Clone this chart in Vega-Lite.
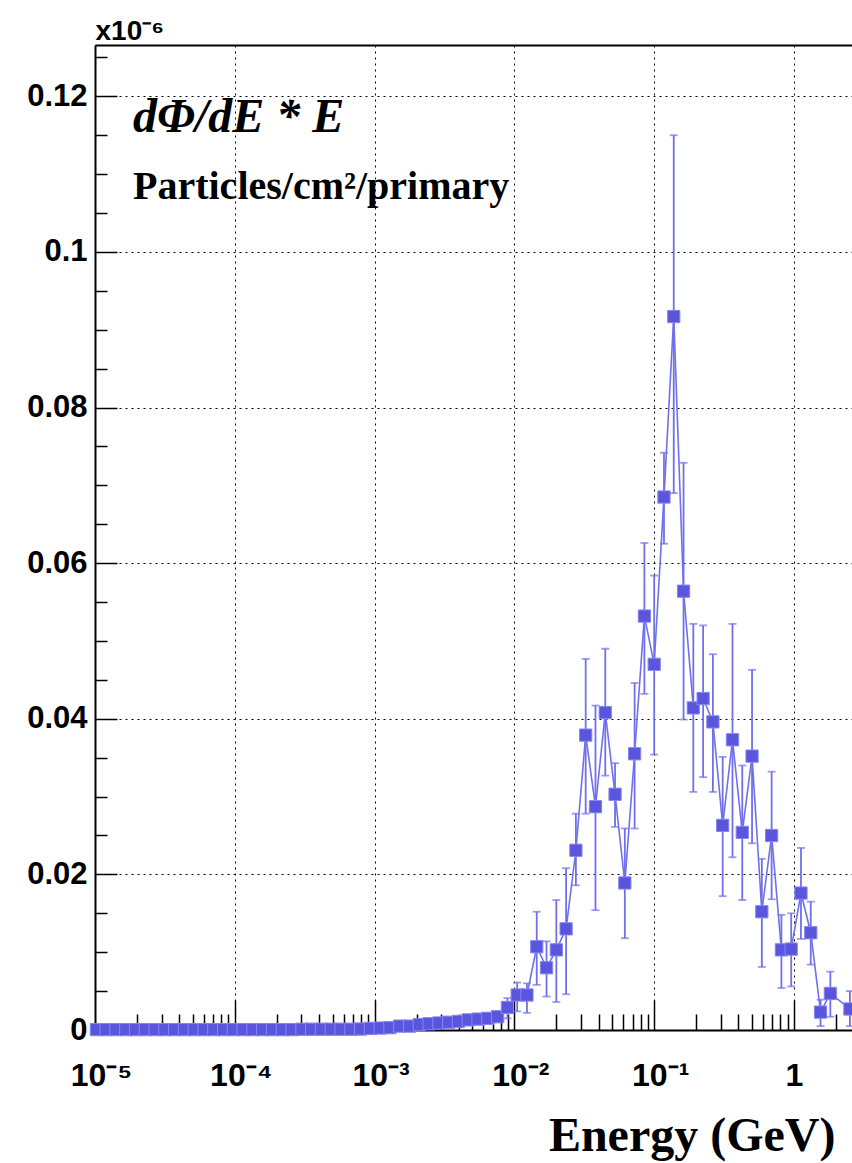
{
  "$schema": "https://vega.github.io/schema/vega-lite/v6.json",
  "width": 757,
  "height": 985,
  "autosize": "none",
  "padding": {"left": 95, "top": 45, "right": 0, "bottom": 133},
  "background": "white",
  "config": {"view": {"stroke": null}},
  "title": {
    "text": "dΦ/dE * E",
    "subtitle": "Particles/cm²/primary",
    "anchor": "start",
    "frame": "group",
    "orient": "top",
    "offset": 0,
    "dx": 38,
    "dy": 190,
    "font": "Liberation Serif",
    "fontSize": 48,
    "fontStyle": "italic",
    "fontWeight": "bold",
    "color": "black",
    "subtitleFont": "Liberation Serif",
    "subtitleFontSize": 40,
    "subtitleFontWeight": "bold",
    "subtitleColor": "black",
    "subtitlePadding": 25
  },
  "data": {
    "values": [
      {"E": 1.023e-5, "v": 0.00005, "lo": 0.00005, "hi": 0.00005},
      {"E": 1.202e-5, "v": 0.00005, "lo": 0.00005, "hi": 0.00005},
      {"E": 1.413e-5, "v": 0.00005, "lo": 0.00005, "hi": 0.00005},
      {"E": 1.660e-5, "v": 0.00005, "lo": 0.00005, "hi": 0.00005},
      {"E": 1.950e-5, "v": 0.00005, "lo": 0.00005, "hi": 0.00005},
      {"E": 2.291e-5, "v": 0.00005, "lo": 0.00005, "hi": 0.00005},
      {"E": 2.692e-5, "v": 0.00005, "lo": 0.00005, "hi": 0.00005},
      {"E": 3.162e-5, "v": 0.00005, "lo": 0.00005, "hi": 0.00005},
      {"E": 3.715e-5, "v": 0.00005, "lo": 0.00005, "hi": 0.00005},
      {"E": 4.365e-5, "v": 0.00005, "lo": 0.00005, "hi": 0.00005},
      {"E": 5.129e-5, "v": 0.00005, "lo": 0.00005, "hi": 0.00005},
      {"E": 6.026e-5, "v": 0.00005, "lo": 0.00005, "hi": 0.00005},
      {"E": 7.079e-5, "v": 0.00005, "lo": 0.00005, "hi": 0.00005},
      {"E": 8.318e-5, "v": 0.00005, "lo": 0.00005, "hi": 0.00005},
      {"E": 9.772e-5, "v": 0.00005, "lo": 0.00005, "hi": 0.00005},
      {"E": 1.148e-4, "v": 0.00005, "lo": 0.00005, "hi": 0.00005},
      {"E": 1.349e-4, "v": 0.00005, "lo": 0.00005, "hi": 0.00005},
      {"E": 1.585e-4, "v": 0.00005, "lo": 0.00005, "hi": 0.00005},
      {"E": 1.862e-4, "v": 0.00005, "lo": 0.00005, "hi": 0.00005},
      {"E": 2.188e-4, "v": 0.00005, "lo": 0.00005, "hi": 0.00005},
      {"E": 2.570e-4, "v": 0.00005, "lo": 0.00005, "hi": 0.00005},
      {"E": 3.020e-4, "v": 0.0001, "lo": 0.0001, "hi": 0.0001},
      {"E": 3.548e-4, "v": 0.0001, "lo": 0.0001, "hi": 0.0001},
      {"E": 4.169e-4, "v": 0.0001, "lo": 0.0001, "hi": 0.0001},
      {"E": 4.898e-4, "v": 0.0001, "lo": 0.0001, "hi": 0.0001},
      {"E": 5.754e-4, "v": 0.0001, "lo": 0.0001, "hi": 0.0001},
      {"E": 6.761e-4, "v": 0.0001, "lo": 0.0001, "hi": 0.0001},
      {"E": 7.943e-4, "v": 0.00012, "lo": 0.00012, "hi": 0.00012},
      {"E": 9.333e-4, "v": 0.0002, "lo": 0.0002, "hi": 0.0002},
      {"E": 1.096e-3, "v": 0.00025, "lo": 0.00025, "hi": 0.00025},
      {"E": 1.288e-3, "v": 0.0003, "lo": 0.0003, "hi": 0.0003},
      {"E": 1.514e-3, "v": 0.0005, "lo": 0.0005, "hi": 0.0005},
      {"E": 1.778e-3, "v": 0.0005, "lo": 0.0005, "hi": 0.0005},
      {"E": 2.089e-3, "v": 0.0007, "lo": 0.0007, "hi": 0.0007},
      {"E": 2.455e-3, "v": 0.0008, "lo": 0.0008, "hi": 0.0008},
      {"E": 2.884e-3, "v": 0.0009, "lo": 0.0009, "hi": 0.0009},
      {"E": 3.388e-3, "v": 0.0010, "lo": 0.0010, "hi": 0.0010},
      {"E": 3.981e-3, "v": 0.0011, "lo": 0.0011, "hi": 0.0011},
      {"E": 4.677e-3, "v": 0.0013, "lo": 0.0013, "hi": 0.0013},
      {"E": 5.495e-3, "v": 0.0014, "lo": 0.0011, "hi": 0.0017},
      {"E": 6.457e-3, "v": 0.0015, "lo": 0.0011, "hi": 0.0019},
      {"E": 7.586e-3, "v": 0.0017, "lo": 0.0011, "hi": 0.0023},
      {"E": 8.913e-3, "v": 0.0029, "lo": 0.0015, "hi": 0.0041},
      {"E": 1.047e-2, "v": 0.0045, "lo": 0.0024, "hi": 0.0061},
      {"E": 1.230e-2, "v": 0.0045, "lo": 0.0022, "hi": 0.0060},
      {"E": 1.445e-2, "v": 0.0107, "lo": 0.0058, "hi": 0.0152},
      {"E": 1.698e-2, "v": 0.0080, "lo": 0.0043, "hi": 0.0114},
      {"E": 1.995e-2, "v": 0.0103, "lo": 0.0036, "hi": 0.0167},
      {"E": 2.344e-2, "v": 0.0130, "lo": 0.0046, "hi": 0.0208},
      {"E": 2.754e-2, "v": 0.0231, "lo": 0.0186, "hi": 0.0278},
      {"E": 3.236e-2, "v": 0.0379, "lo": 0.0278, "hi": 0.0477},
      {"E": 3.802e-2, "v": 0.0287, "lo": 0.0154, "hi": 0.0417},
      {"E": 4.467e-2, "v": 0.0408, "lo": 0.0327, "hi": 0.0490},
      {"E": 5.248e-2, "v": 0.0303, "lo": 0.0261, "hi": 0.0343},
      {"E": 6.166e-2, "v": 0.0189, "lo": 0.0118, "hi": 0.0259},
      {"E": 7.244e-2, "v": 0.0355, "lo": 0.0259, "hi": 0.0446},
      {"E": 8.511e-2, "v": 0.0532, "lo": 0.0432, "hi": 0.0626},
      {"E": 0.1, "v": 0.0470, "lo": 0.0354, "hi": 0.0584},
      {"E": 0.1175, "v": 0.0685, "lo": 0.0625, "hi": 0.0742},
      {"E": 0.1380, "v": 0.0917, "lo": 0.0690, "hi": 0.1150},
      {"E": 0.1622, "v": 0.0564, "lo": 0.0399, "hi": 0.0729},
      {"E": 0.1905, "v": 0.0414, "lo": 0.0306, "hi": 0.0522},
      {"E": 0.2239, "v": 0.0426, "lo": 0.0325, "hi": 0.0520},
      {"E": 0.2630, "v": 0.0396, "lo": 0.0306, "hi": 0.0483},
      {"E": 0.3090, "v": 0.0263, "lo": 0.0172, "hi": 0.0351},
      {"E": 0.3631, "v": 0.0373, "lo": 0.0222, "hi": 0.0522},
      {"E": 0.4266, "v": 0.0254, "lo": 0.0167, "hi": 0.0340},
      {"E": 0.5012, "v": 0.0352, "lo": 0.0240, "hi": 0.0463},
      {"E": 0.5888, "v": 0.0152, "lo": 0.0081, "hi": 0.0220},
      {"E": 0.6918, "v": 0.0250, "lo": 0.0168, "hi": 0.0332},
      {"E": 0.8128, "v": 0.0103, "lo": 0.0054, "hi": 0.0148},
      {"E": 0.9550, "v": 0.0104, "lo": 0.0056, "hi": 0.0150},
      {"E": 1.122, "v": 0.0176, "lo": 0.0117, "hi": 0.0234},
      {"E": 1.318, "v": 0.0125, "lo": 0.0084, "hi": 0.0165},
      {"E": 1.549, "v": 0.0023, "lo": 0.0005, "hi": 0.0039},
      {"E": 1.820, "v": 0.0047, "lo": 0.0017, "hi": 0.0075},
      {"E": 2.512, "v": 0.0027, "lo": 0.0005, "hi": 0.0050}
    ]
  },
  "resolve": {"axis": {"x": "independent", "y": "independent"}},
  "layer": [
    {
      "mark": {"type": "rule", "color": "#7070ec", "strokeWidth": 1.8},
      "transform": [{"filter": "datum.hi > datum.lo"}],
      "encoding": {
        "x": {
          "field": "E", "type": "quantitative",
          "scale": {"type": "log", "domain": [0.00001, 2.6], "nice": false},
          "axis": {
            "orient": "bottom",
            "values": [0.00001, 0.0001, 0.001, 0.01, 0.1, 1],
            "labelExpr": "datum.value < 5e-5 ? '10⁻⁵' : datum.value < 5e-4 ? '10⁻⁴' : datum.value < 5e-3 ? '10⁻³' : datum.value < 5e-2 ? '10⁻²' : datum.value < 0.5 ? '10⁻¹' : '1'",
            "ticks": false,
            "grid": true, "gridColor": "black", "gridDash": [2, 4], "gridWidth": 1, "gridOpacity": 1,
            "domain": true, "domainColor": "black", "domainWidth": 2,
            "labelFont": "Liberation Sans", "labelFontWeight": "bold", "labelFontSize": 32, "labelColor": "black",
            "labelPadding": 30, "labelBaseline": "top", "labelFlush": false, "labelOverlap": false,
            "labelOffset": {"condition": {"test": "datum.value < 0.5", "value": 6}, "value": 0},
            "title": "Energy (GeV)",
            "titleFont": "Liberation Serif", "titleFontSize": 48, "titleFontWeight": "bold", "titleColor": "black",
            "titleAlign": "right", "titleBaseline": "alphabetic", "titleX": 740, "titleY": 120
          }
        },
        "y": {
          "field": "lo", "type": "quantitative",
          "scale": {"domain": [0, 0.1266], "nice": false, "zero": false},
          "axis": {
            "orient": "left",
            "values": [0, 0.02, 0.04, 0.06, 0.08, 0.1, 0.12],
            "format": ".2~f",
            "ticks": false,
            "grid": true, "gridColor": "black", "gridDash": [2, 4], "gridWidth": 1, "gridOpacity": 1,
            "domain": true, "domainColor": "black", "domainWidth": 2,
            "labelFont": "Liberation Sans", "labelFontWeight": "bold", "labelFontSize": 31, "labelColor": "black",
            "labelPadding": 8, "labelBaseline": "middle", "labelFlush": false, "labelOverlap": false,
            "title": "x10⁻⁶", "titleAngle": 0, "titleAlign": "left", "titleBaseline": "alphabetic",
            "titleX": 0, "titleY": -6,
            "titleFont": "Liberation Sans", "titleFontWeight": "bold", "titleFontSize": 28, "titleColor": "black"
          }
        },
        "y2": {"field": "hi"}
      }
    },
    {
      "mark": {"type": "tick", "orient": "horizontal", "color": "#7070ec", "thickness": 1.8, "size": 8},
      "transform": [
        {"filter": "datum.hi > datum.lo"},
        {"fold": ["lo", "hi"], "as": ["which", "bound"]}
      ],
      "encoding": {
        "x": {
          "field": "E", "type": "quantitative",
          "scale": {"type": "log", "domain": [0.00001, 2.6], "nice": false},
          "axis": {
            "orient": "bottom", "offset": -16, "tickSize": 16, "tickColor": "black", "tickWidth": 1.5,
            "values": [0.00002, 0.00003, 0.00004, 0.00005, 0.00006, 0.00007, 0.00008, 0.00009,
                       0.0002, 0.0003, 0.0004, 0.0005, 0.0006, 0.0007, 0.0008, 0.0009,
                       0.002, 0.003, 0.004, 0.005, 0.006, 0.007, 0.008, 0.009,
                       0.02, 0.03, 0.04, 0.05, 0.06, 0.07, 0.08, 0.09,
                       0.2, 0.3, 0.4, 0.5, 0.6, 0.7, 0.8, 0.9, 2],
            "labels": false, "domain": false, "grid": false, "title": null
          }
        },
        "y": {
          "field": "bound", "type": "quantitative",
          "scale": {"domain": [0, 0.1266], "nice": false, "zero": false},
          "axis": {
            "orient": "left", "offset": -12, "tickSize": 12, "tickColor": "black", "tickWidth": 1.5,
            "values": [0.005, 0.01, 0.015, 0.025, 0.03, 0.035, 0.045, 0.05, 0.055, 0.065, 0.07, 0.075,
                       0.085, 0.09, 0.095, 0.105, 0.11, 0.115, 0.125],
            "labels": false, "domain": false, "grid": false, "title": null
          }
        }
      }
    },
    {
      "mark": {"type": "line", "color": "#7070ec", "strokeWidth": 1.6},
      "encoding": {
        "x": {
          "field": "E", "type": "quantitative",
          "scale": {"type": "log", "domain": [0.00001, 2.6], "nice": false},
          "axis": {
            "orient": "bottom", "offset": -30, "tickSize": 30, "tickColor": "black", "tickWidth": 1.5,
            "values": [0.0001, 0.001, 0.01, 0.1, 1],
            "labels": false, "domain": false, "grid": false, "title": null
          }
        },
        "y": {
          "field": "v", "type": "quantitative",
          "scale": {"domain": [0, 0.1266], "nice": false, "zero": false},
          "axis": {
            "orient": "left", "offset": -22, "tickSize": 22, "tickColor": "black", "tickWidth": 1.5,
            "values": [0.02, 0.04, 0.06, 0.08, 0.1, 0.12],
            "labels": false, "domain": false, "grid": false, "title": null
          }
        }
      }
    },
    {
      "mark": {"type": "point", "shape": "square", "filled": true, "size": 150, "color": "#5a55dd", "stroke": "#8585f2", "strokeWidth": 1, "opacity": 1},
      "encoding": {
        "x": {
          "field": "E", "type": "quantitative",
          "scale": {"type": "log", "domain": [0.00001, 2.6], "nice": false},
          "axis": {"orient": "top", "labels": false, "ticks": false, "grid": false, "domain": true, "domainColor": "black", "domainWidth": 2, "title": null}
        },
        "y": {
          "field": "v", "type": "quantitative",
          "scale": {"domain": [0, 0.1266], "nice": false, "zero": false},
          "axis": null
        }
      }
    }
  ]
}
